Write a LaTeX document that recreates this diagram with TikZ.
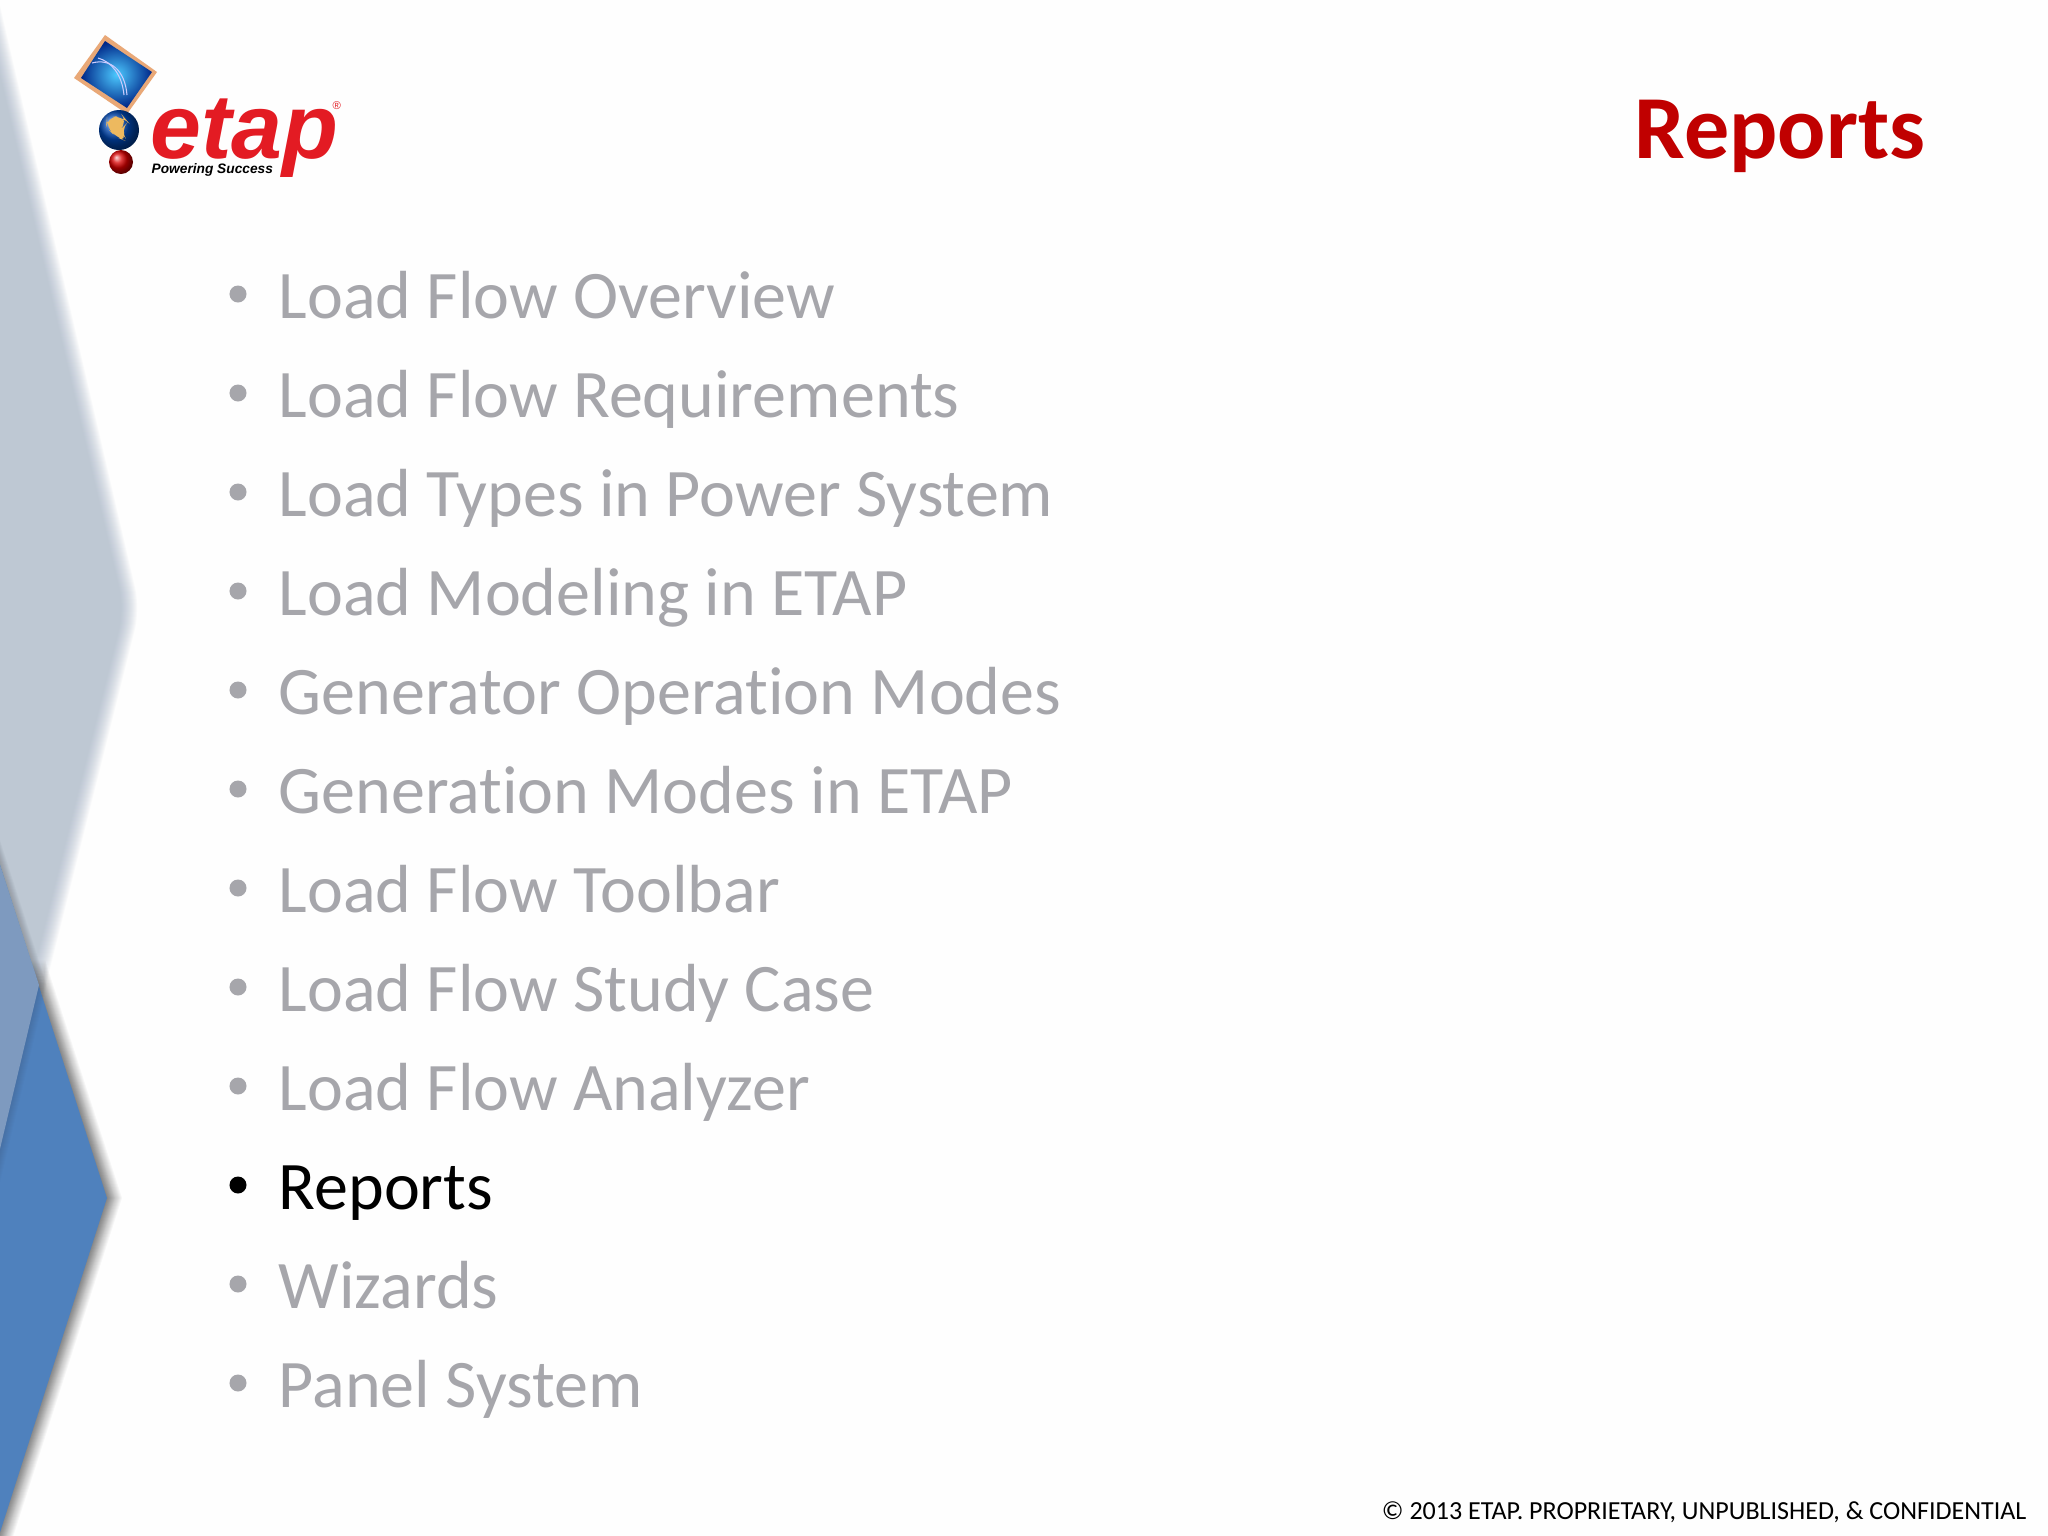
\documentclass[tikz,border=0pt]{standalone}
\usepackage{fontspec}
\setmainfont{Carlito}[Ligatures=NoCommon]
\newfontfamily\logofont{Liberation Sans}
\definecolor{bluepanel}{HTML}{4F81BD}
\definecolor{greypanel}{HTML}{9FAEC2}
\definecolor{overlappanel}{HTML}{7E9ABF}
\definecolor{greytext}{HTML}{A6A6AB}
\definecolor{titlered}{HTML}{C00000}
\definecolor{logored}{HTML}{E31B23}
\definecolor{frameorange}{HTML}{E9A877}
\begin{document}
\begin{tikzpicture}%
[x=.01cm,y=-.01cm,%
itemtext/.style={anchor=base west, inner sep=0pt, font=\fontsize{19.35}{24}\selectfont},%
itemdot/.style={circle, inner sep=0pt, minimum size=.17cm},%
logotext/.style={anchor=base west, inner sep=0pt, text=logored}]
\useasboundingbox (0,0) rectangle (2048,1536);
\fill[white!99.5!black] (0,0) rectangle (2048,1536);
\clip (0,0) rectangle (2048,1536);
% pale panel, soft edge
\foreach \s in {-8,...,8} {
  \fill[greypanel, fill opacity=.055, rounded corners=6pt, xshift=\s*.01cm] (-40,-132) -- (132,609) -- (-30,1256) -- cycle;
}
% blue panel with shadow
\foreach \s in {1,...,8} {
  \fill[black, fill opacity=.01, xshift=\s*.01cm] (-20,803) -- (107,1198) -- (-20,1593) -- cycle;
}
\foreach \s in {-2,...,15} {
  \fill[black, fill opacity=.03, xshift=\s*.01cm] (30,960) -- (107,1198) -- (-20,1593) -- cycle;
}
\fill[bluepanel] (-20,803) -- (107,1198) -- (-13,1573) -- (-20,1573) -- cycle;
% overlap of the two panels
\foreach \s in {1,...,8} {
  \fill[black, fill opacity=.012, xshift=\s*.01cm] (-20,803) -- (39,985) -- (-20,1233) -- cycle;
}
\fill[overlappanel] (-20,803) -- (39,985) -- (-20,1233) -- cycle;
% logo
\fill[frameorange] (105,35) -- (157,72) -- (127,114) -- (74,78) -- cycle;
\shade[inner color=blue!30!cyan!70!white, outer color=blue!45!black!85!cyan] (105,41) -- (152,72) -- (127,108) -- (81,78) -- cycle;
\draw[white!80!blue, line width=.3pt] (92,63) .. controls (110,58) and (125,70) .. (127,95);
\draw[white!80!blue, line width=.3pt] (98,58) .. controls (112,62) and (122,75) .. (124,95);
\shade[ball color=blue!60!cyan!70!black] (119,130) circle (20);
\fill[frameorange!80!yellow, rounded corners=3pt] (107,117) -- (123,116) -- (128,122) -- (120,130) -- (128,142) -- (116,137) -- (106,127) -- cycle;
\shade[ball color=red!85!black] (121,162) circle (12);
\node[logotext, font=\logofont\bfseries\itshape\fontsize{26}{28}\selectfont] (logoname) at (150,158) {etap};
\node[logotext, text=black, font=\logofont\bfseries\itshape\fontsize{3.9}{4}\selectfont] (logotag) at (151,173) {Powering Success};
\node[logotext, font=\logofont\fontsize{3.2}{4}\selectfont] (logomark) at (332,109) {®};
% title and footer
\node[anchor=base west, inner sep=0pt, text=titlered, font=\bfseries\fontsize{25.6}{30}\selectfont] (title) at (1634,158) {Reports};
\node[anchor=base east, inner sep=0pt, font=\fontsize{7.4}{9}\selectfont] (footer) at (2027,1519) {© 2013 ETAP. PROPRIETARY, UNPUBLISHED, \& CONFIDENTIAL};
% agenda
\foreach \txt [count=\i] in {Load Flow Overview,Load Flow Requirements,Load Types in Power System,Load Modeling in ETAP,Generator Operation Modes,Generation Modes in ETAP,Load Flow Toolbar,Load Flow Study Case,Load Flow Analyzer,Reports,Wizards,Panel System} {
  \ifnum\i=10 \colorlet{itemcolor}{black}\else \colorlet{itemcolor}{greytext}\fi
  \node[itemtext, text=itemcolor] (item\i) at (278,{318+99*(\i-1)}) {\txt};
  \node[itemdot, fill=itemcolor] (dot\i) at (238,{294+99*(\i-1)}) {};
}
\end{tikzpicture}
\end{document}
